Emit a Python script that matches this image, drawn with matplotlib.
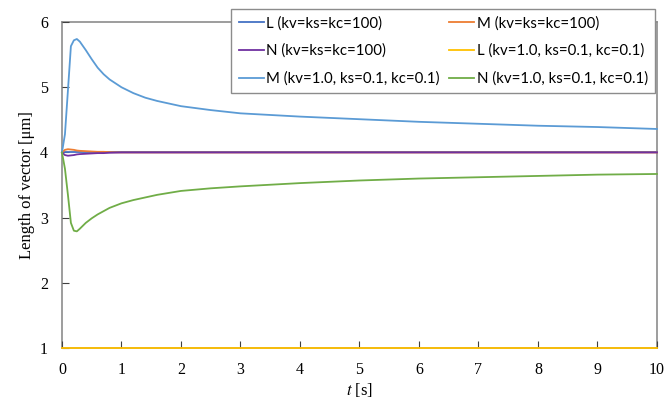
import numpy as np
import matplotlib.pyplot as plt

# -----------------------------
# Data
# -----------------------------
t = [0, 0.05, 0.1, 0.15, 0.2, 0.25, 0.3, 0.4, 0.5, 0.6, 0.7, 0.8, 1.0, 1.2, 1.4, 1.6,
     2.0, 2.5, 3, 4, 5, 6, 7, 8, 9, 10]

L_100 = [4.0] * len(t)
M_100 = [4.0, 4.04, 4.05, 4.045, 4.04, 4.03, 4.025, 4.02, 4.015, 4.01, 4.01, 4.005, 4.0,
         4.0, 4.0, 4.0, 4.0, 4.0, 4.0, 4.0, 4.0, 4.0, 4.0, 4.0, 4.0, 4.0]
N_100 = [4.0, 3.96, 3.95, 3.955, 3.96, 3.97, 3.975, 3.98, 3.985, 3.99, 3.99, 3.995, 4.0,
         4.0, 4.0, 4.0, 4.0, 4.0, 4.0, 4.0, 4.0, 4.0, 4.0, 4.0, 4.0, 4.0]
L_01 = [1.0] * len(t)
M_01 = [4.0, 4.28, 4.95, 5.63, 5.72, 5.74, 5.70, 5.57, 5.43, 5.30, 5.20, 5.12, 5.00, 4.91,
        4.84, 4.79, 4.71, 4.65, 4.60, 4.55, 4.51, 4.47, 4.44, 4.41, 4.39, 4.36]
N_01 = [4.0, 3.75, 3.35, 2.92, 2.80, 2.79, 2.83, 2.92, 2.99, 3.05, 3.10, 3.15, 3.22, 3.27,
        3.31, 3.35, 3.41, 3.45, 3.48, 3.53, 3.57, 3.60, 3.62, 3.64, 3.66, 3.67]

labels = ['L (kv=ks=kc=100)', 'M (kv=ks=kc=100)', 'N (kv=ks=kc=100)',
          'L (kv=1.0, ks=0.1, kc=0.1)', 'M (kv=1.0, ks=0.1, kc=0.1)',
          'N (kv=1.0, ks=0.1, kc=0.1)']
colors = ['#4472C4', '#ED7D31', '#7030A0', '#FFC000', '#5B9BD5', '#70AD47']
series = [L_100, M_100, N_100, L_01, M_01, N_01]

# -----------------------------
# Figure
# -----------------------------
plt.rcParams['font.family'] = 'Liberation Serif'
plt.rcParams['mathtext.fontset'] = 'stix'
fig = plt.figure(figsize=(6.7, 4.01), dpi=100)
ax = fig.add_axes([0.0925, 0.132, 0.888, 0.813])

lines = {}
for y, c, lab in zip(series, colors, labels):
    lines[lab], = ax.plot(t, y, color=c, lw=1.3, label=lab, clip_on=False, zorder=3)

ax.set_xlim(0, 10)
ax.set_ylim(1, 6)
ax.set_xticks(range(0, 11))
ax.set_yticks(range(1, 7))
ax.tick_params(direction='in', length=5, width=0.8, labelsize=11.5, pad=10,
               color='#404040')
for s in ax.spines.values():
    s.set_color('#8c8c8c')
    s.set_linewidth(1.2)
    s.set_zorder(1)

ax.set_xlabel(r'$t$ [s]', fontsize=12, labelpad=2)
ax.set_ylabel('Length of vector [μm]', fontsize=12, labelpad=4)

# legend filled row-wise in the reference -> reorder for column filling
order = [0, 2, 4, 1, 3, 5]
handles = [lines[labels[i]] for i in order]
leg = fig.legend(handles, [labels[i] for i in order], ncol=2,
                 loc='upper right', bbox_to_anchor=(0.978, 0.978),
                 prop={'family': 'Lato', 'size': 10.8}, frameon=True, fancybox=False,
                 edgecolor='#8c8c8c', framealpha=1, labelspacing=0.88,
                 handlelength=1.7, handletextpad=0.15, columnspacing=0.6,
                 borderpad=0.5, borderaxespad=0)
leg.get_frame().set_linewidth(1.0)

fig.savefig('out.png', dpi=100)
